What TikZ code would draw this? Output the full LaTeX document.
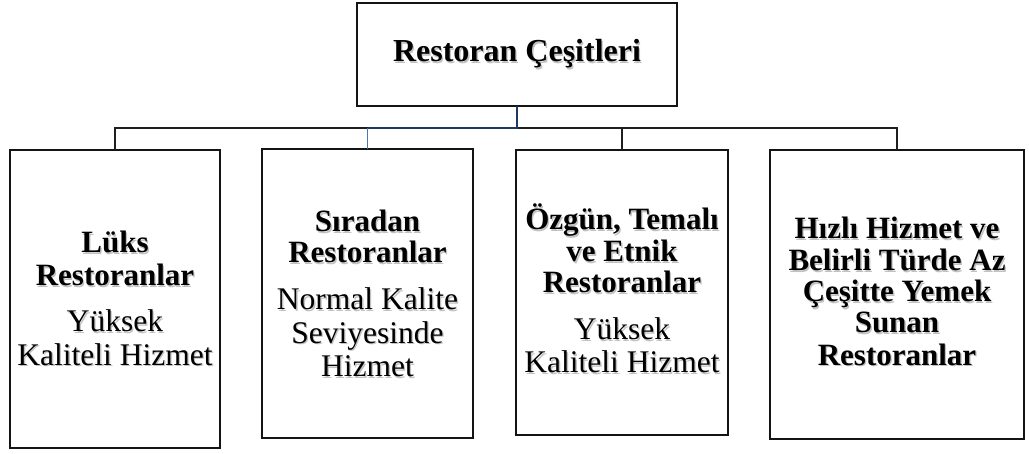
\documentclass[tikz,border=0pt]{standalone}
\usepackage{fontspec}
\setmainfont{Liberation Serif}
\usepackage{xcolor}
\definecolor{navy}{HTML}{1F3A5F}
\definecolor{steel}{HTML}{4A78AE}

% text with a soft grey drop shadow
\newcommand\shtext[1]{\makebox[0pt][l]{\kern1.3pt\raisebox{-1.3pt}{\textcolor{black!24}{#1}}}#1}

\begin{document}
\begin{tikzpicture}[x=1pt,y=1pt,
  frame/.style={draw=black!92, line width=2.6pt, fill=white, inner sep=0pt, outer sep=0pt},
  conn/.style={draw=black!88, line width=1.3pt},
  head/.style={font=\bfseries\fontsize{31}{32}\selectfont, anchor=base, inner sep=0pt},
  body/.style={font=\fontsize{31.5}{33}\selectfont, anchor=base, inner sep=0pt}]
\useasboundingbox (0,0) rectangle (1029,453);

% boxes
\node[frame, minimum width=320, minimum height=103, anchor=north] (top) at (517,450) {};
\node[frame, minimum width=210, minimum height=298, anchor=north] (b1) at (115,303) {};
\node[frame, minimum width=211, minimum height=289, anchor=north] (b2) at (367.5,304) {};
\node[frame, minimum width=212, minimum height=285, anchor=north] (b3) at (622,303) {};
\node[frame, minimum width=254, minimum height=289, anchor=north] (b4) at (897,303) {};

% connectors
\coordinate (bus) at (517,325);
\draw[conn] (b1.north) -- (b1.north |- bus) -- (b4.north |- bus) -- (b4.north);
\draw[conn] (b3.north) -- (b3.north |- bus);
\draw[conn, draw=navy] (top.south) -- (bus) -- (b2.north |- bus);
\draw[conn, draw=steel] (b2.north |- bus) -- (b2.north);

% title
\node[head, font=\bfseries\fontsize{32}{32}\selectfont] (tt) at (517,391) {\shtext{Restoran Çeşitleri}};

% box 1
\node[head] (t1a) at (115,200) {\shtext{Lüks}};
\node[head] (t1b) at (115,167) {\shtext{Restoranlar}};
\node[body] (t1c) at (115,121) {\shtext{Yüksek}};
\node[body] (t1d) at (115,88) {\shtext{Kaliteli Hizmet}};

% box 2
\node[head] (t2a) at (367.5,221) {\shtext{Sıradan}};
\node[head] (t2b) at (367.5,190) {\shtext{Restoranlar}};
\node[body] (t2c) at (367.5,143) {\shtext{Normal Kalite}};
\node[body] (t2d) at (367.5,110) {\shtext{Seviyesinde}};
\node[body] (t2e) at (367.5,76) {\shtext{Hizmet}};

% box 3
\node[head] (t3a) at (622,223) {\shtext{Özgün, Temalı}};
\node[head] (t3b) at (622,191) {\shtext{ve Etnik}};
\node[head] (t3c) at (622,160) {\shtext{Restoranlar}};
\node[body] (t3d) at (622,113) {\shtext{Yüksek}};
\node[body] (t3e) at (622,80) {\shtext{Kaliteli Hizmet}};

% box 4
\node[head] (t4a) at (897,214) {\shtext{Hızlı Hizmet ve}};
\node[head] (t4b) at (897,182) {\shtext{Belirli Türde Az}};
\node[head] (t4c) at (897,151) {\shtext{Çeşitte Yemek}};
\node[head] (t4d) at (897,120) {\shtext{Sunan}};
\node[head] (t4e) at (897,88) {\shtext{Restoranlar}};
\end{tikzpicture}
\end{document}
